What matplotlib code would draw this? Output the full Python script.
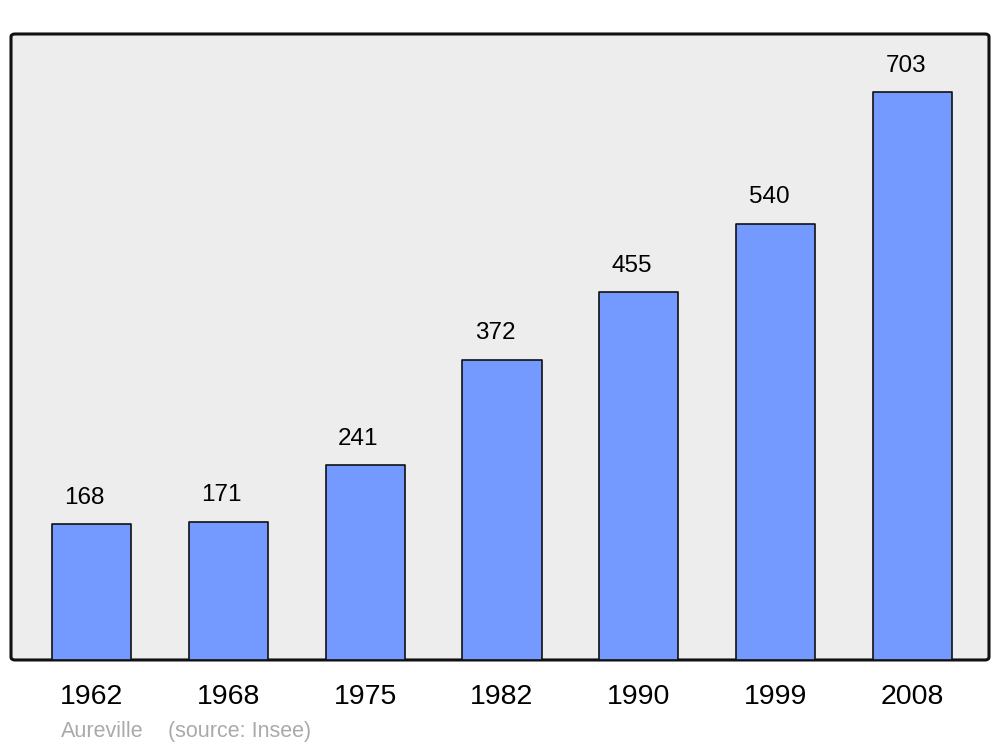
import matplotlib
matplotlib.use("Agg")
import matplotlib.pyplot as plt
from matplotlib.patches import FancyBboxPatch

years = ["1962", "1968", "1975", "1982", "1990", "1999", "2008"]
population = [168, 171, 241, 372, 455, 540, 703]
place = "Aureville"
source = "(source: Insee)"

plt.rcParams['font.family'] = ['Liberation Sans', 'DejaVu Sans']

fig = plt.figure(figsize=(10, 7.47), dpi=100)
ax = fig.add_axes([0.011, 0.1165, 0.978, 0.838])
ax.set_facecolor('none')
ax.set_zorder(1)

# rounded frame / background
frame = FancyBboxPatch((0.011, 0.1165), 0.978, 0.838,
                       boxstyle="round,pad=0,rounding_size=0.004",
                       transform=fig.transFigure, facecolor='#ededed',
                       edgecolor='#111111', linewidth=2.2, zorder=-1)
fig.patches.append(frame)

x = list(range(len(years)))
bars = ax.bar(x, population, width=0.578, color='#7499ff',
              edgecolor='#111111', linewidth=1.2, zorder=2)
for b in bars:
    b.set_joinstyle('round')

for xi, v in zip(x, population):
    ax.annotate(str(v), (xi - 0.05, v), xytext=(0, 19), textcoords='offset points',
                ha='center', va='center', fontsize=17.5, color='black')

ax.set_xlim(-0.588, 6.559)
ax.set_ylim(0, 775)
ax.set_xticks(x)
ax.set_xticklabels(years, fontsize=20.5)
ax.tick_params(axis='x', length=0, pad=17.5)
ax.set_yticks([])
for s in ax.spines.values():
    s.set_visible(False)

fig.text(0.061, 0.021, place, fontsize=15.5, color='#aaaaaa', ha='left', va='center')
fig.text(0.168, 0.021, source, fontsize=15.5, color='#aaaaaa', ha='left', va='center')

fig.savefig('out.png', dpi=100)
